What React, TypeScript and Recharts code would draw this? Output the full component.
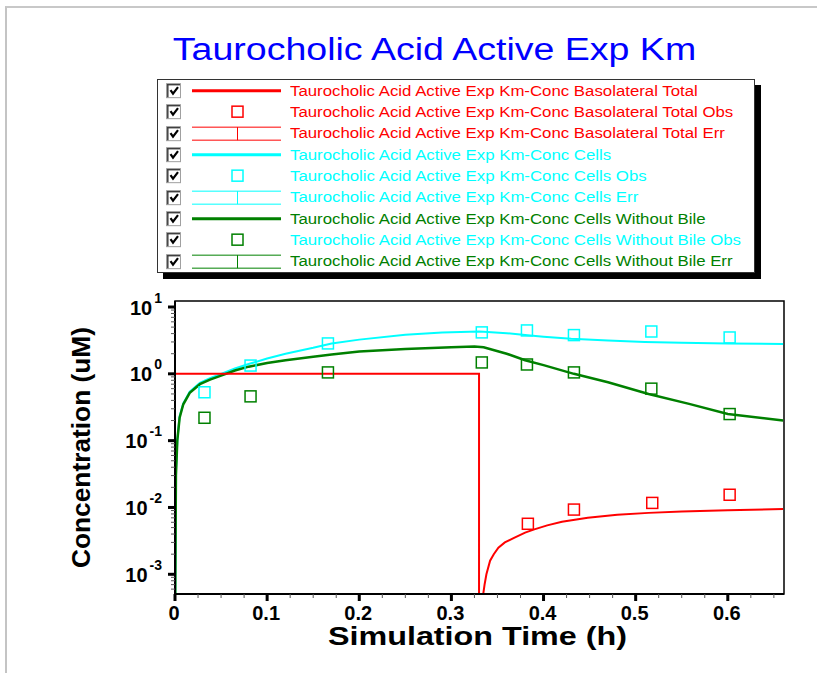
import React from "react";
import { ComposedChart, Line, Scatter, XAxis, YAxis, ReferenceArea } from "recharts";

const RED = "#ff0000";
const CYAN = "#00ffff";
const GREEN = "#008000";
const FONT = "Arial, 'Liberation Sans', sans-serif";

const TITLE = "Taurocholic Acid Active Exp Km";
const PREFIX = "Taurocholic Acid Active Exp Km-Conc ";

// simulated basolateral total (h, uM) – dose removed at 0.33 h
const basoTime = [0, 0.33, 0.33, 0.334, 0.3345, 0.336, 0.338, 0.342, 0.346, 0.351, 0.358, 0.368, 0.38, 0.39, 0.404, 0.42, 0.448, 0.48, 0.514, 0.55, 0.6, 0.66];
const basoConc = [1, 1, 1e-4, 1e-4, 5e-4, 7e-4, 1.0e-3, 1.6e-3, 2.0e-3, 2.5e-3, 3.0e-3, 3.5e-3, 4.2e-3, 4.7e-3, 5.4e-3, 6.1e-3, 7.0e-3, 7.8e-3, 8.3e-3, 8.7e-3, 9.1e-3, 9.5e-3];

// simulated cells
const cellsTime = [0, 0.001, 0.0025, 0.005, 0.009, 0.016, 0.027, 0.038, 0.05, 0.065, 0.08, 0.1, 0.12, 0.15, 0.17, 0.2, 0.25, 0.29, 0.33, 0.335, 0.36, 0.38, 0.4, 0.43, 0.47, 0.51, 0.55, 0.6, 0.66];
const cellsConc = [1e-4, 0.035, 0.1, 0.23, 0.36, 0.54, 0.73, 0.86, 1.0, 1.2, 1.4, 1.7, 2.0, 2.45, 2.85, 3.25, 3.85, 4.15, 4.3, 4.28, 4.05, 3.8, 3.6, 3.35, 3.15, 3.0, 2.92, 2.85, 2.8];

// simulated cells without bile
const noBileTime = [0, 0.001, 0.0025, 0.005, 0.009, 0.016, 0.027, 0.038, 0.05, 0.065, 0.08, 0.1, 0.12, 0.15, 0.17, 0.2, 0.25, 0.3, 0.325, 0.335, 0.36, 0.38, 0.4, 0.433, 0.47, 0.514, 0.558, 0.6, 0.66];
const noBileConc = [1e-4, 0.03, 0.1, 0.22, 0.35, 0.52, 0.7, 0.82, 0.94, 1.12, 1.28, 1.45, 1.6, 1.8, 1.95, 2.15, 2.35, 2.5, 2.57, 2.5, 2.0, 1.6, 1.35, 1.0, 0.75, 0.5, 0.355, 0.25, 0.2];

// observed values
const basoObsTime = [0.383, 0.433, 0.518, 0.602];
const basoObs = [0.0057, 0.0093, 0.0117, 0.0155];
const cellsObsTime = [0.032, 0.082, 0.166, 0.333, 0.382, 0.433, 0.517, 0.602];
const cellsObs = [0.53, 1.33, 2.85, 4.17, 4.46, 3.8, 4.3, 3.5];
const noBileObsTime = [0.032, 0.082, 0.166, 0.333, 0.382, 0.433, 0.517, 0.602];
const noBileObs = [0.22, 0.46, 1.05, 1.48, 1.38, 1.05, 0.6, 0.25];

const xMajor = [0, 0.1, 0.2, 0.3, 0.4, 0.5, 0.6];
const xLabels = ["0", "0.1", "0.2", "0.3", "0.4", "0.5", "0.6"];
const xMinorStep = 0.025;
const decades = [-3, -2, -1, 0, 1];

const X_DOMAIN: [number, number] = [0, 0.661];
const Y_DOMAIN: [number, number] = [5.07e-4, 12.3];

const zip = (xs: number[], ys: number[]) => xs.map((x, i) => ({ x, y: ys[i] }));

const xTicks: number[] = [];
for (let i = 0; i * xMinorStep <= X_DOMAIN[1]; i++) xTicks.push(+(i * xMinorStep).toFixed(3));

const yTicks: number[] = [];
for (let d = -4; d <= 1; d++) {
  for (let m = 1; m <= 9; m++) {
    const v = m * Math.pow(10, d);
    if (v >= Y_DOMAIN[0] && v <= Y_DOMAIN[1]) yTicks.push(v);
  }
}

const XTick = (props: any) => {
  const { x, y, payload } = props;
  const i = xMajor.findIndex((m) => Math.abs(m - payload.value) < 1e-6);
  if (i < 0) return <line x1={x} x2={x} y1={y} y2={y + 4} stroke="#555" strokeWidth={1} />;
  return (
    <g>
      <line x1={x} x2={x} y1={y} y2={y + 7} stroke="#000" strokeWidth={3} />
      <text x={x - 1} y={y + 26} textAnchor="middle" fontFamily={FONT} fontWeight="bold" fontSize={20} fill="#000">
        {xLabels[i]}
      </text>
    </g>
  );
};

const YTick = (props: any) => {
  const { x, y, payload } = props;
  const lg = Math.log10(payload.value);
  const e = Math.round(lg);
  if (Math.abs(lg - e) > 1e-6 || !decades.includes(e))
    return <line x1={x - 4} x2={x} y1={y} y2={y} stroke="#555" strokeWidth={1} />;
  return (
    <g>
      <line x1={x - 7} x2={x} y1={y} y2={y} stroke="#000" strokeWidth={3} />
      <text x={x - 13} y={y + 7.5} textAnchor="end" fontFamily={FONT} fontWeight="bold" fontSize={20} fill="#000">
        <tspan>10</tspan>
        <tspan dx={2} dy={-12} fontSize={14}>{String(e)}</tspan>
      </text>
    </g>
  );
};

const Square = (color: string) => (props: any) => {
  const { cx, cy } = props;
  if (cx == null || cy == null) return <g />;
  return <rect x={cx - 5.5} y={cy - 5.5} width={11} height={11} fill="none" stroke={color} strokeWidth={1.5} />;
};

type Row = { text: string; color: string; textColor: string; kind: "line" | "obs" | "err" };
const legendRows: Row[] = [
  { text: "Basolateral Total", color: RED, textColor: RED, kind: "line" },
  { text: "Basolateral Total Obs", color: RED, textColor: RED, kind: "obs" },
  { text: "Basolateral Total Err", color: RED, textColor: RED, kind: "err" },
  { text: "Cells", color: CYAN, textColor: CYAN, kind: "line" },
  { text: "Cells Obs", color: CYAN, textColor: CYAN, kind: "obs" },
  { text: "Cells Err", color: CYAN, textColor: CYAN, kind: "err" },
  { text: "Cells Without Bile", color: GREEN, textColor: GREEN, kind: "line" },
  { text: "Cells Without Bile Obs", color: GREEN, textColor: CYAN, kind: "obs" },
  { text: "Cells Without Bile Err", color: GREEN, textColor: GREEN, kind: "err" },
];

const ROW_H = 192 / 9;

function LegendSample({ row }: { row: Row }) {
  const c = ROW_H / 2;
  return (
    <svg width={132} height={ROW_H} style={{ display: "block", flex: "none" }}>
      {/* sunken checkbox */}
      <rect x={8.5} y={c - 7} width={14} height={14} fill="#fff" stroke="#a0a0a0" strokeWidth={1} />
      <line x1={9} x2={22} y1={c - 6} y2={c - 6} stroke="#404040" strokeWidth={1.5} />
      <line x1={9.8} x2={9.8} y1={c - 6} y2={c + 6.5} stroke="#404040" strokeWidth={1.5} />
      <polyline points={`${12.5},${c - 0.5} ${15},${c + 3} ${20},${c - 3.5}`} fill="none" stroke="#000" strokeWidth={2.2} />
      {row.kind === "line" && <line x1={34} x2={123} y1={c} y2={c} stroke={row.color} strokeWidth={3} />}
      {row.kind === "obs" && (
        <rect x={74} y={c - 5.5} width={11} height={11} fill="none" stroke={row.color} strokeWidth={1.5} />
      )}
      {row.kind === "err" && (
        <g stroke={row.color} strokeWidth={1}>
          <line x1={34} x2={123} y1={c - 6.5} y2={c - 6.5} />
          <line x1={34} x2={123} y1={c + 6.5} y2={c + 6.5} />
          <line x1={79.5} x2={79.5} y1={c - 6.5} y2={c + 6.5} />
        </g>
      )}
    </svg>
  );
}

export default function App() {
  return (
    <div style={{ position: "absolute", left: 0, top: 0, width: 817, height: 673, background: "#fff" }}>
      <div
        style={{
          position: "absolute",
          left: 5,
          top: 6,
          right: 0,
          bottom: 0,
          borderLeft: "2px solid #c4c4c4",
          borderTop: "2px solid #c8c8c8",
        }}
      />
      <ComposedChart width={817} height={673} margin={{ top: 301, right: 33, bottom: 0, left: 0 }}>
        <XAxis
          dataKey="x"
          type="number"
          domain={X_DOMAIN}
          allowDataOverflow
          ticks={xTicks}
          interval={0}
          tick={XTick}
          tickLine={false}
          tickSize={0}
          tickMargin={0}
          height={79}
          axisLine={{ stroke: "#000", strokeWidth: 2 }}
          label={{
            content: (p: any) => (
              <text
                x={p.viewBox.x + p.viewBox.width / 2 - 2}
                y={p.viewBox.y + 51}
                textAnchor="middle"
                textLength={299}
                lengthAdjust="spacingAndGlyphs"
                fontFamily={FONT}
                fontWeight="bold"
                fontSize={25}
                fill="#000"
              >
                Simulation Time (h)
              </text>
            ),
          }}
        />
        <YAxis
          dataKey="y"
          type="number"
          scale="log"
          domain={Y_DOMAIN}
          allowDataOverflow
          ticks={yTicks}
          interval={0}
          tick={YTick}
          tickLine={false}
          tickSize={0}
          tickMargin={0}
          width={175}
          axisLine={{ stroke: "#000", strokeWidth: 2 }}
          label={{
            content: (p: any) => {
              const cy = p.viewBox.y + p.viewBox.height / 2;
              return (
                <text
                  x={81}
                  y={cy}
                  textAnchor="middle"
                  dominantBaseline="central"
                  textLength={241}
                  lengthAdjust="spacingAndGlyphs"
                  transform={`rotate(-90 81 ${cy})`}
                  fontFamily={FONT}
                  fontWeight="bold"
                  fontSize={25}
                  fill="#000"
                >
                  Concentration (uM)
                </text>
              );
            },
          }}
        />
        <ReferenceArea
          x1={X_DOMAIN[0]}
          x2={X_DOMAIN[1]}
          y1={Y_DOMAIN[0]}
          y2={Y_DOMAIN[1]}
          fill="none"
          stroke="#000"
          strokeWidth={1.5}
          ifOverflow="visible"
        />
        <Line data={zip(cellsTime, cellsConc)} dataKey="y" type="linear" stroke={CYAN} strokeWidth={2} dot={false} isAnimationActive={false} />
        <Line data={zip(noBileTime, noBileConc)} dataKey="y" type="linear" stroke={GREEN} strokeWidth={2.5} dot={false} isAnimationActive={false} />
        <Line data={zip(basoTime, basoConc)} dataKey="y" type="linear" stroke={RED} strokeWidth={2} dot={false} isAnimationActive={false} />
        <Scatter data={zip(cellsObsTime, cellsObs)} dataKey="y" shape={Square(CYAN)} isAnimationActive={false} />
        <Scatter data={zip(noBileObsTime, noBileObs)} dataKey="y" shape={Square(GREEN)} isAnimationActive={false} />
        <Scatter data={zip(basoObsTime, basoObs)} dataKey="y" shape={Square(RED)} isAnimationActive={false} />
      </ComposedChart>

      <div
        style={{
          position: "absolute",
          left: 0,
          width: 869,
          top: 31,
          textAlign: "center",
          fontFamily: FONT,
          fontSize: 31,
          color: "#0000ff",
          lineHeight: "38px",
          whiteSpace: "nowrap",
          transform: "scaleX(1.21)",
          transformOrigin: "434.5px 50%",
        }}
      >
        {TITLE}
      </div>

      <div
        style={{
          position: "absolute",
          left: 157,
          top: 79,
          width: 596,
          height: 192,
          border: "1px solid #333",
          background: "#fff",
          boxShadow: "6px 6px 0 #000",
        }}
      >
        {legendRows.map((r) => (
          <div key={r.text} style={{ display: "flex", alignItems: "center", height: ROW_H }}>
            <LegendSample row={r} />
            <span
              style={{
                display: "inline-block",
                fontFamily: FONT,
                fontSize: 14,
                color: r.textColor,
                whiteSpace: "nowrap",
                transform: "scaleX(1.2)",
                transformOrigin: "0 50%",
              }}
            >
              {PREFIX + r.text}
            </span>
          </div>
        ))}
      </div>
    </div>
  );
}
